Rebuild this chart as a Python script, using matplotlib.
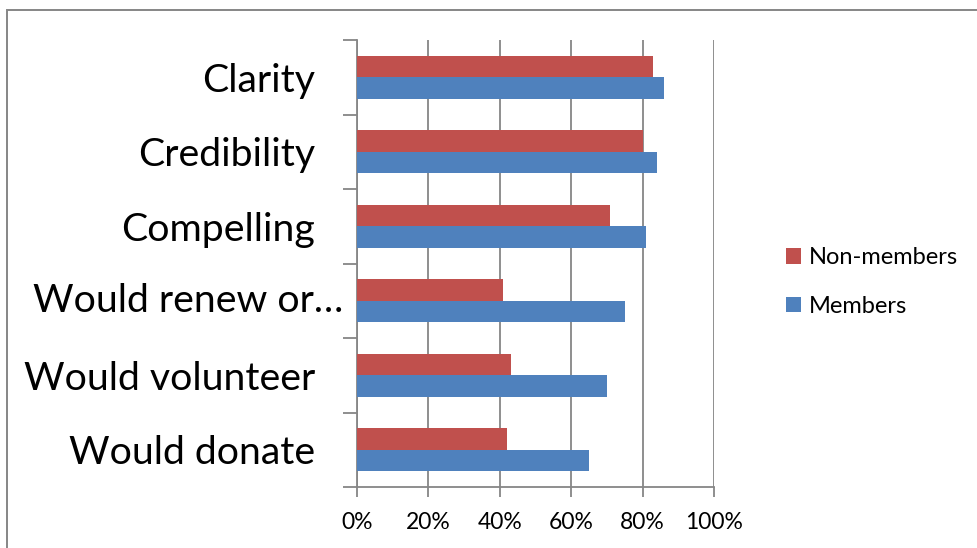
import matplotlib
matplotlib.use("Agg")
import matplotlib.pyplot as plt
from matplotlib.patches import Rectangle
import numpy as np

plt.rcParams['font.family'] = ['Lato', 'DejaVu Sans']

categories = ["Clarity", "Credibility", "Compelling", "Would renew or\u2026",
              "Would volunteer", "Would donate"]
non_members = [83, 80, 71, 41, 43, 42]
members = [86, 84, 81, 75, 70, 65]
xticks = [0, 20, 40, 60, 80, 100]
xtick_labels = ["0%", "20%", "40%", "60%", "80%", "100%"]

RED = "#C0504D"
BLUE = "#4F81BD"
GRID = "#868686"

W, H, DPI = 977, 548, 100
fig = plt.figure(figsize=(W / DPI, H / DPI), dpi=DPI)
fig.patch.set_facecolor("white")

# outer chart border
fig.add_artist(Rectangle((7 / W, -0.05), 1.2, (H - 10) / H + 0.05,
                         transform=fig.transFigure, fill=False,
                         edgecolor=GRID, linewidth=1.4))

ax = fig.add_axes([357 / W, 61 / H, 357 / W, 447 / H])

n = len(categories)
ypos = np.arange(n)[::-1]  # Clarity at top
bh = 0.29
ax.barh(ypos + bh / 2, non_members, height=bh, color=RED, label="Non-members",
        zorder=3)
ax.barh(ypos - bh / 2, members, height=bh, color=BLUE, label="Members",
        zorder=3)

ax.set_xlim(0, 100)
ax.set_ylim(-0.5, n - 0.5)
ax.set_xticks(xticks)
ax.set_xticklabels(xtick_labels, fontsize=16.5)
ax.xaxis.grid(True, color=GRID, linewidth=1.3, zorder=0)
ax.set_axisbelow(True)

ax.set_yticks(ypos)
labels = list(categories)
labels[3] = ""
ax.set_yticklabels(labels, fontsize=28.3)
ax.tick_params(axis='y', which='major', length=0, pad=30)
ax.set_yticks(np.arange(-0.5, n, 1.0), minor=True)
ax.tick_params(axis='y', which='minor', length=10, width=1.3, color=GRID)
ax.tick_params(axis='x', which='major', length=7, width=1.3, color=GRID, pad=11)

# overflowing label
ax.text((343 - 357) / 357, ypos[3], categories[3], transform=ax.get_yaxis_transform(),
        ha='right', va='center', fontsize=28.3)

for s in ['top', 'right']:
    ax.spines[s].set_visible(False)
for s in ['left', 'bottom']:
    ax.spines[s].set_color(GRID)
    ax.spines[s].set_linewidth(1.3)

fig.legend(loc='center left', bbox_to_anchor=(786 / W, 1 - 282 / H),
           frameon=False, fontsize=17, handlelength=0.62, handleheight=0.62,
           handletextpad=0.36, labelspacing=1.15, borderpad=0, borderaxespad=0)

fig.savefig("out.png", dpi=DPI, facecolor="white")
